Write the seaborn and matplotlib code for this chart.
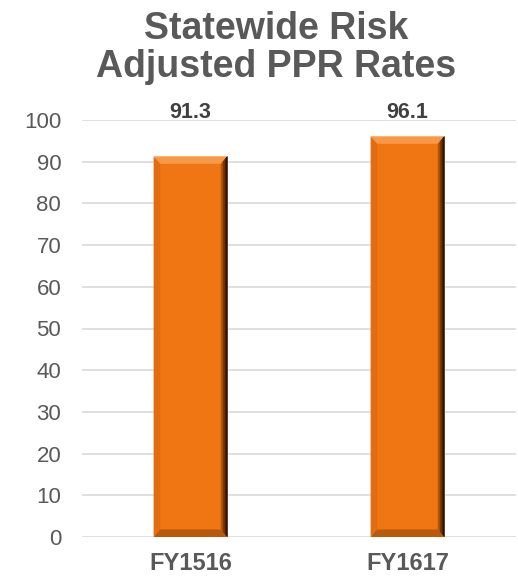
import matplotlib
matplotlib.use("Agg")
import matplotlib.pyplot as plt
import seaborn as sns
import pandas as pd
from matplotlib.patches import Polygon

categories = ["FY1516", "FY1617"]
values = [91.3, 96.1]
value_labels = ["91.3", "96.1"]
yticks = [0, 10, 20, 30, 40, 50, 60, 70, 80, 90, 100]
title = "Statewide Risk\nAdjusted PPR Rates"

sns.set_theme(style="white")
plt.rcParams['font.family'] = ['Liberation Sans', 'DejaVu Sans']

df = pd.DataFrame({"cat": categories, "val": values})

fig = plt.figure(figsize=(5.18, 5.76), dpi=100)
ax = fig.add_axes([82/518, 1 - 537/576, 434/518, 417/576])

sns.barplot(data=df, x="cat", y="val", color="#F07614", width=0.34,
            saturation=1, ax=ax, zorder=3)

ax.set_ylim(0, 100)
ax.set_xlim(-0.5, 1.5)
ax.set_yticks(yticks)
ax.set_yticklabels([str(t) for t in yticks], fontsize=16, color="#595959")
ax.set_xticks(range(len(categories)))
ax.set_xticklabels(categories, fontsize=17, fontweight="bold", color="#595959")
ax.tick_params(axis="x", pad=11, length=0)
ax.tick_params(axis="y", pad=15, length=0)
ax.set_xlabel("")
ax.set_ylabel("")
for s in ax.spines.values():
    s.set_visible(False)
ax.yaxis.grid(True, color="#D9D9D9", linewidth=1.2, zorder=0)
ax.set_axisbelow(True)

# bevel effect derived from each bar patch
for p in ax.patches:
    x0, y0 = p.get_x(), p.get_y()
    w, h = p.get_width(), p.get_height()
    x1, y1 = x0 + w, y0 + h
    dx = w * 0.09
    dy = 1.8
    polys = []
    polys.append(([[x0, y0], [x0, y1], [x0 + dx, y1 - dy], [x0 + dx, y0 + dy]], "#E26C12"))
    polys.append(([[x0, y0], [x1, y0], [x1 - dx, y0 + dy], [x0 + dx, y0 + dy]], "#B85A0C"))
    polys.append(([[x0, y1], [x1, y1], [x1 - dx, y1 - dy], [x0 + dx, y1 - dy]], "#F79A48"))
    for f, c in [(1.0, "#B3560B"), (0.7, "#7A3806"), (0.4, "#4A2003"), (0.18, "#241000")]:
        polys.append(([[x1, y1], [x1, y0], [x1 - dx * f, y0 + dy * f], [x1 - dx * f, y1 - dy * f]], c))
    for pts, c in polys:
        ax.add_patch(Polygon(pts, closed=True, facecolor=c, edgecolor="none", zorder=4))

for i, (v, lab) in enumerate(zip(values, value_labels)):
    ax.text(i, 100.4, lab, ha="center", va="baseline", fontsize=15.5,
            fontweight="bold", color="#404040", zorder=5)

fig.text(276/518, 1 - 48/576, title, ha="center", va="center",
         fontsize=27, fontweight="bold", color="#595959", linespacing=1.05)

fig.savefig("out.png", dpi=100)
